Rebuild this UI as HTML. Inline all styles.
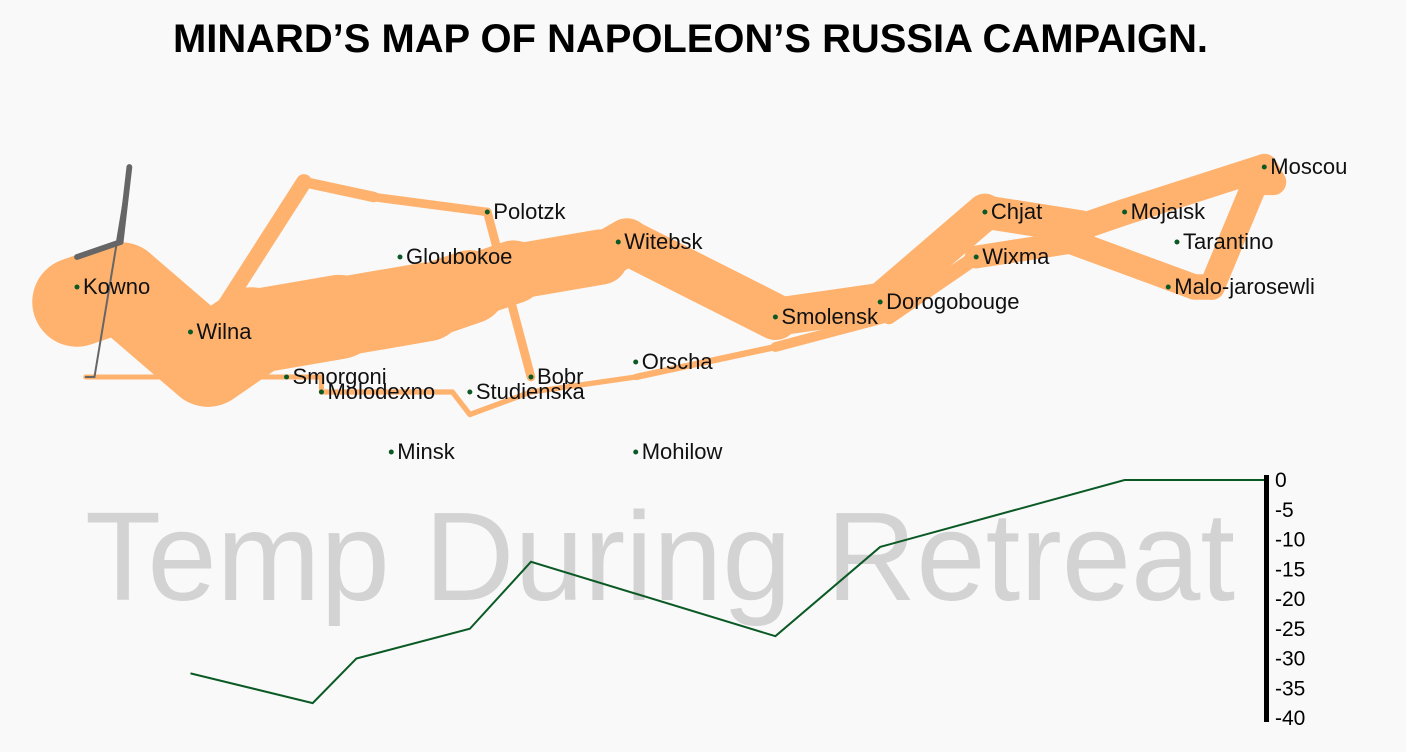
<!DOCTYPE html>
<html><head><meta charset="utf-8"><style>
html,body{margin:0;padding:0;background:#f9f9f9;}
svg{display:block;font-family:"Liberation Sans",sans-serif;}
</style></head><body>
<svg id="chart" width="1406" height="752">
<rect width="1406" height="752" fill="#f9f9f9"/>
<text x="173" y="52" font-size="40" font-weight="bold" fill="#000" textLength="1035" lengthAdjust="spacingAndGlyphs">MINARD’S MAP OF NAPOLEON’S RUSSIA CAMPAIGN.</text>
<text x="85" y="600" font-size="126" fill="#d3d3d3" textLength="1150" lengthAdjust="spacingAndGlyphs">Temp During Retreat</text>
<g id="troops"></g><g id="temp"></g><g id="axis"></g><g id="cities"></g>
</svg>
<script>
const troopLon1=[24.0,24.5,25.5,26.0,27.0,28.0,28.5,29.0,30.0,30.3,32.0,33.2,34.4,35.5,36.0,37.6,37.7,37.5,37.0,36.8,35.4,34.3,33.3,32.0,30.4,29.2,28.5,28.3,26.8,26.8,26.4,25.0,24.4,24.2,24.1];
const troopLat1=[54.9,55.0,54.5,54.7,54.8,54.9,55.0,55.1,55.2,55.3,54.8,54.9,55.5,55.4,55.5,55.8,55.7,55.7,55.0,55.0,55.3,55.2,54.8,54.6,54.4,54.3,54.15,54.3,54.3,54.4,54.4,54.4,54.4,54.4,54.4];
const troopSurv1=[340000,340000,340000,320000,300000,280000,240000,210000,180000,175000,145000,140000,127100,100000,100000,100000,100000,98000,97000,96000,87000,55000,37000,24000,20000,20000,20000,20000,12000,12000,14000,8000,4000,4000,4000];
const troopLon2=[24.0,24.5,25.5,26.6,27.4,28.7,29.2];
const troopLat2=[55.1,55.2,54.7,55.7,55.6,55.5,54.4];
const troopSurv2=[60000,60000,60000,40000,33000,33000,30000];
const troopLon3=[24.0,24.5,24.6,24.2,24.1];
const troopLat3=[55.2,55.3,55.8,54.4,54.4];
const troopSurv3=[22000,22000,6000,6000,6000];
const cityNames=["Kowno","Wilna","Smorgoni","Molodexno","Gloubokoe","Minsk","Studienska","Polotzk","Bobr","Witebsk","Orscha","Mohilow","Smolensk","Dorogobouge","Wixma","Chjat","Mojaisk","Moscou","Tarantino","Malo-jarosewli"];
const cityLon=[24.0,25.3,26.4,26.8,27.7,27.6,28.5,28.7,29.2,30.2,30.4,30.4,32.0,33.2,34.3,34.4,36.0,37.6,36.6,36.5];
const cityLat=[55.0,54.7,54.4,54.3,55.2,53.9,54.3,55.5,54.4,55.3,54.5,53.9,54.8,54.9,55.2,55.5,55.5,55.8,55.3,55.0];
const tempLon=[37.6,36.0,33.2,32.0,29.2,28.5,27.2,26.7,25.3];
const tempVal=[0,0,-11.25,-26.25,-13.75,-25,-30,-37.5,-32.5];
const tempTicks=[0,-5,-10,-15,-20,-25,-30,-35,-40];

const NS="http://www.w3.org/2000/svg";
const xS=lon=>77+(lon-24.0)*87.3;
const yS=lat=>287-(lat-55.0)*150;
const tY=t=>480-t*5.95;
function mk(tag,attrs,parent){const e=document.createElementNS(NS,tag);for(const k in attrs)e.setAttribute(k,attrs[k]);parent.appendChild(e);return e;}
const troops=document.getElementById('troops');
function drawGroup(lons,lats,surv,color,name,minW){
  for(let i=0;i<lons.length-1;i++){
    const l=mk('line',{x1:xS(lons[i]),y1:yS(lats[i]),x2:xS(lons[i+1]),y2:yS(lats[i+1]),stroke:color,'stroke-width':Math.max(minW,surv[i]/3800),'stroke-linecap':'round'},troops);
    
    
  }
}
drawGroup(troopLon1,troopLat1,troopSurv1,'#ffb26e','army-path-group1',5);
drawGroup(troopLon2,troopLat2,troopSurv2,'#ffb26e','army-path-group2',7);
drawGroup(troopLon3,troopLat3,troopSurv3,'#666666','army-path-group3',2);

const temp=document.getElementById('temp');
let d='M1266,'+tY(tempVal[0]);
for(let i=0;i<tempLon.length;i++)d+=' L'+xS(tempLon[i])+','+tY(tempVal[i]);
const tl=mk('path',{d:d,fill:'none',stroke:'#0b5a25','stroke-width':2},temp);



const axis=document.getElementById('axis');
const ab=mk('rect',{x:1264,y:tY(0)-5,width:5,height:tY(-40)-tY(0)+9,fill:'#000'},axis);


tempTicks.forEach(t=>{
  const tx=mk('text',{x:1275,y:tY(t)+7,'font-size':21,fill:'#000'},axis);
  tx.textContent=t;
  
  
});

const cities=document.getElementById('cities');
cityNames.forEach((n,i)=>{
  const c=mk('circle',{cx:xS(cityLon[i]),cy:yS(cityLat[i]),r:2.5,fill:'#0b5a25'},cities);
  
  
  const t=mk('text',{x:xS(cityLon[i])+6,y:yS(cityLat[i])+7,'font-size':22,fill:'#111'},cities);
  t.textContent=n;
  
  
});
</script>
</body></html>
